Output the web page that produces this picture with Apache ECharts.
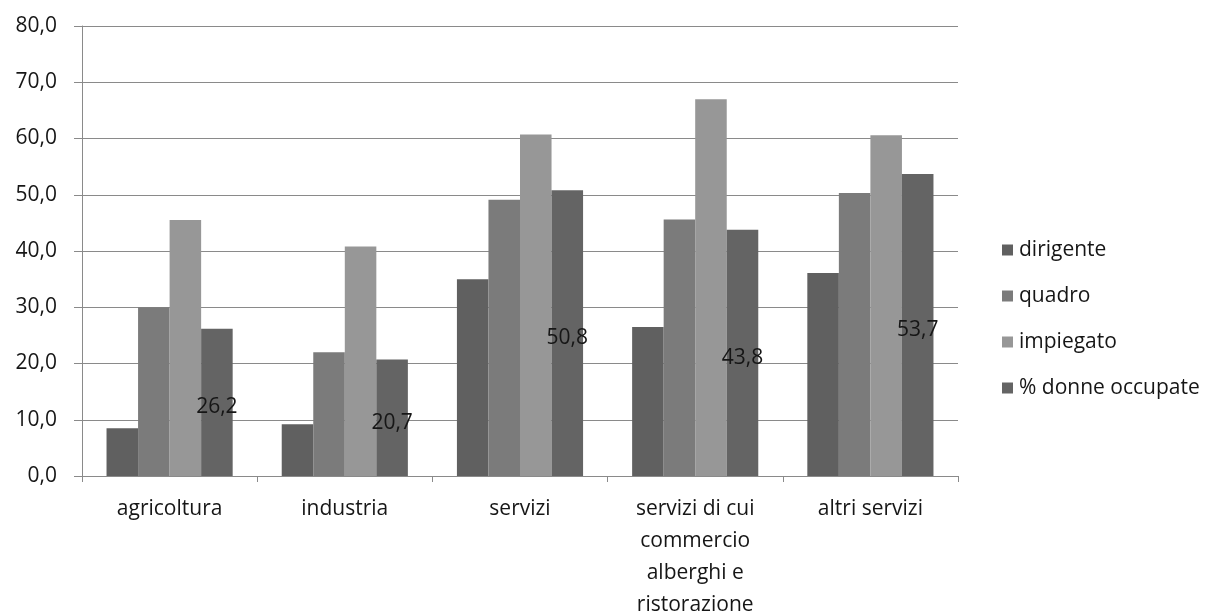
<!DOCTYPE html>
<html>
<head>
<meta charset="utf-8">
<script src="https://cdn.jsdelivr.net/npm/echarts@6/dist/echarts.min.js"></script>
<style>
  html, body { margin: 0; padding: 0; background: #ffffff; }
  #chart { width: 1211px; height: 611px; }
</style>
</head>
<body>
<div id="chart"></div>
<script>
// Categories (sectors) and one value per occupational level
const categories = ['agricoltura', 'industria', 'servizi', 'servizi di cui\ncommercio\nalberghi e\nristorazione', 'altri servizi'];
const seriesNames = ['dirigente', 'quadro', 'impiegato', '% donne occupate'];
const dirigente = [8.5, 9.2, 35.0, 26.5, 36.1];
const quadro = [30.0, 22.0, 49.1, 45.6, 50.3];
const impiegato = [45.5, 40.8, 60.7, 67.0, 60.6];
const donneOccupate = [26.2, 20.7, 50.8, 43.8, 53.7];
const yTicks = { min: 0, max: 80, interval: 10 };

const colors = ['#606060', '#7b7b7b', '#979797', '#646464'];
const fontFamily = '"Open Sans", "Noto Sans", sans-serif';
const textColor = '#161616';
const comma = v => Number(v).toFixed(1).replace('.', ',');

const values = [dirigente, quadro, impiegato, donneOccupate];

const series = seriesNames.map((name, i) => ({
  name: name,
  type: 'bar',
  data: values[i],
  barGap: '0%',
  barCategoryGap: '28%',
  itemStyle: { color: colors[i] },
  label: i === 3 ? {
    show: true,
    position: 'inside',
    offset: [0, 5],
    color: textColor,
    fontFamily: fontFamily,
    fontSize: 21,
    formatter: p => comma(p.value)
  } : { show: false }
}));

const chart = echarts.init(document.getElementById('chart'), null, { renderer: 'canvas' });
chart.setOption({
  backgroundColor: '#ffffff',
  animation: false,
  color: colors,
  grid: { left: 82, right: 253, top: 26, bottom: 135, containLabel: false, outerBoundsMode: 'none' },
  legend: {
    orient: 'vertical',
    left: 997,
    top: 233,
    icon: 'rect',
    itemWidth: 11,
    itemHeight: 11,
    itemGap: 22,
    data: seriesNames,
    textStyle: { fontFamily: fontFamily, fontSize: 21, color: textColor, lineHeight: 24, padding: [0, 0, 0, 1] }
  },
  xAxis: {
    type: 'category',
    data: categories,
    axisLine: { show: true, lineStyle: { color: '#8a8a8a', width: 1 } },
    axisTick: { show: true, length: 6, alignWithLabel: false, lineStyle: { color: '#8a8a8a' } },
    axisLabel: {
      interval: 0,
      margin: 17,
      fontFamily: fontFamily,
      fontSize: 21,
      lineHeight: 32,
      color: textColor,
      align: 'center'
    }
  },
  yAxis: {
    type: 'value',
    min: yTicks.min,
    max: yTicks.max,
    interval: yTicks.interval,
    axisLine: { show: true, lineStyle: { color: '#8a8a8a', width: 1 } },
    axisTick: { show: true, length: 8, lineStyle: { color: '#8a8a8a' } },
    splitLine: { show: true, lineStyle: { color: '#8a8a8a', width: 1 } },
    axisLabel: {
      margin: 25,
      fontFamily: fontFamily,
      fontSize: 21,
      color: textColor,
      formatter: v => comma(v)
    }
  },
  series: series
});
</script>
</body>
</html>
